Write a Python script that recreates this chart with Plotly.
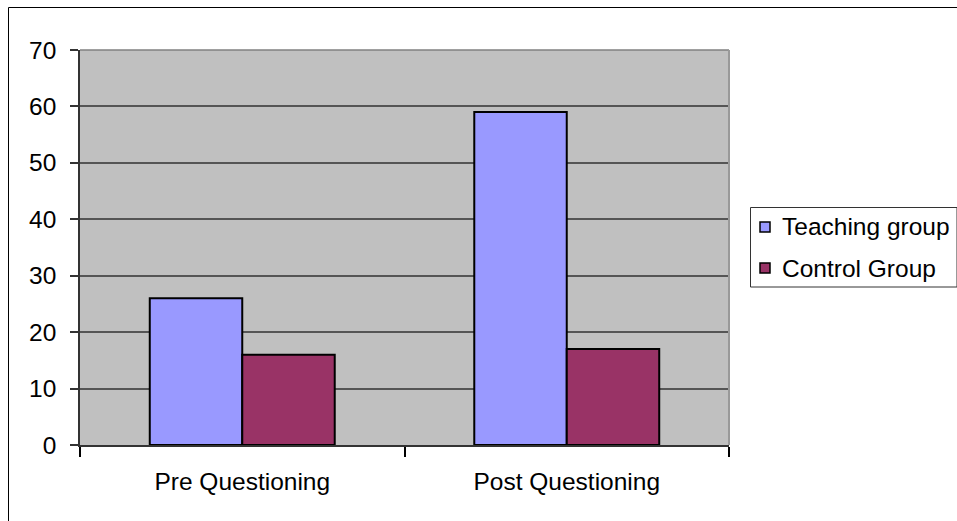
import plotly.graph_objects as go

# Chart data
categories = ["Pre Questioning", "Post Questioning"]
series_names = ["Teaching group", "Control Group"]
teaching_values = [26, 59]
control_values = [16, 17]
y_ticks = [0, 10, 20, 30, 40, 50, 60, 70]

colors = ["#9999FF", "#993366"]
FONT = dict(family="Liberation Sans, Arial, sans-serif", size=24.5, color="#000000")

W, H = 957, 521
L, R, T, B = 80, 228, 50, 76
PW, PH = W - L - R, H - T - B


def px(x):
    return (x - L) / PW


def py(y):
    return (H - B - y) / PH


fig = go.Figure()
for name, vals, col in zip(series_names, [teaching_values, control_values], colors):
    fig.add_trace(go.Bar(
        x=categories, y=vals, name=name,
        marker=dict(color=col, line=dict(color="#000000", width=2)),
        showlegend=False,
    ))

shapes = [
    # outer chart border
    dict(type="rect", xref="paper", yref="paper",
         x0=px(8.5), x1=px(990), y0=py(560), y1=py(7.5),
         line=dict(color="#000000", width=1), layer="below"),
    # plot-area frame: top and right edges
    dict(type="line", xref="paper", yref="paper", x0=0, x1=1, y0=1, y1=1,
         line=dict(color="#808080", width=1.5)),
    dict(type="line", xref="paper", yref="paper", x0=1, x1=1, y0=0, y1=1,
         line=dict(color="#999999", width=2)),
    # legend box
    dict(type="rect", xref="paper", yref="paper",
         x0=px(750.5), x1=px(957), y0=py(287), y1=py(207.5),
         line=dict(color="#333333", width=1), fillcolor="#FFFFFF"),
]
annotations = []
item_centers = [227, 268]
for name, col, cy in zip(series_names, colors, item_centers):
    shapes.append(dict(type="rect", xref="paper", yref="paper",
                       x0=px(760), x1=px(770), y0=py(cy + 5), y1=py(cy - 5),
                       line=dict(color="#000000", width=1.5), fillcolor=col))
    annotations.append(dict(xref="paper", yref="paper", x=px(780), y=py(cy),
                            xanchor="left", yanchor="middle", text=name,
                            showarrow=False, font=FONT))

fig.update_layout(
    width=W, height=H,
    margin=dict(l=L, r=R, t=T, b=B),
    paper_bgcolor="#FFFFFF",
    plot_bgcolor="#C0C0C0",
    barmode="group",
    bargap=0.43,
    bargroupgap=0,
    font=FONT,
    shapes=shapes,
    annotations=annotations,
)
fig.update_yaxes(
    range=[0, 70], tickvals=y_ticks, ticktext=[str(v) for v in y_ticks],
    showgrid=True, gridcolor="#555555", gridwidth=1.5,
    ticks="outside", ticklen=8, tickcolor="#333333", tickwidth=1.5,
    showline=True, linecolor="#333333", linewidth=1.5,
    ticklabelstandoff=9, zeroline=False, tickfont=FONT,
)
fig.update_xaxes(
    range=[-0.5, 1.5], tickson="boundaries",
    ticks="outside", ticklen=10, tickcolor="#000000", tickwidth=1.5,
    showline=True, linecolor="#333333", linewidth=2,
    showgrid=False, tickfont=FONT, ticklabelstandoff=14,
)

fig.write_html("out.html")
